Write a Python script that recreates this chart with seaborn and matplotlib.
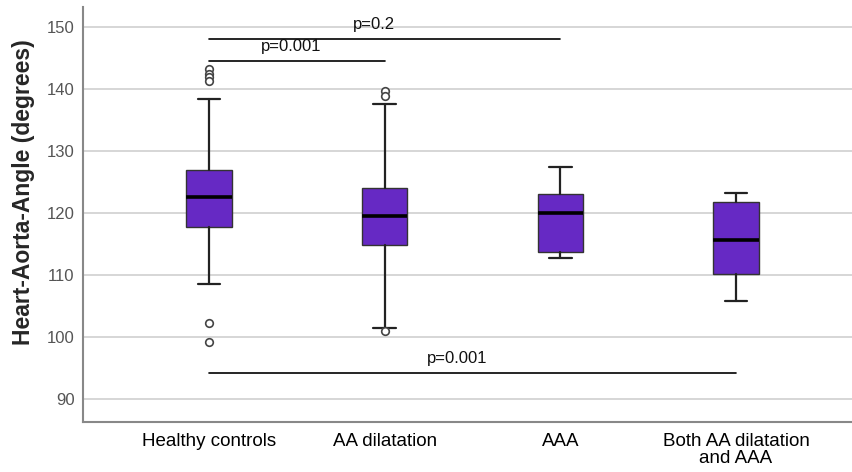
import numpy as np
import pandas as pd
import matplotlib
matplotlib.use("Agg")
import matplotlib.pyplot as plt
import seaborn as sns

# Data
groups = ["Healthy controls", "AA dilatation", "AAA", "Both AA dilatation\nand AAA"]
whis_low = [108.6, 101.5, 112.8, 105.8]
q1 = [117.8, 114.9, 113.8, 110.2]
median = [122.6, 119.6, 120.1, 115.6]
q3 = [127.0, 124.0, 123.1, 121.8]
whis_high = [138.4, 137.6, 127.5, 123.3]

outlier_group = [0, 0, 0, 0, 0, 0, 1, 1, 1]
outlier_value = [143.2, 142.4, 141.9, 141.3, 102.3, 99.2, 139.7, 138.9, 101.0]

# significance bars: (from group, to group, bar height, label)
sig_from = [0, 0, 0]
sig_to = [2, 1, 3]
sig_y = [148.0, 144.5, 94.2]
sig_text = ["p=0.2", "p=0.001", "p=0.001"]

sns.set_style("white")
plt.rcParams["font.family"] = ["Liberation Sans", "DejaVu Sans"]

fig = plt.figure(figsize=(8.52, 4.72), dpi=100)
ax = fig.add_axes([0.0974, 0.1066, 0.9026, 0.8784])

stats = []
for i, g in enumerate(groups):
    stats.append({"label": g, "whislo": whis_low[i], "q1": q1[i], "med": median[i],
                  "q3": q3[i], "whishi": whis_high[i], "fliers": []})

ax.bxp(stats, positions=range(len(groups)), widths=0.26, patch_artist=True,
       showfliers=False,
       boxprops=dict(facecolor="#6629C4", edgecolor="#333333", linewidth=1.0),
       medianprops=dict(color="black", linewidth=2.6),
       whiskerprops=dict(color="#222222", linewidth=1.6),
       capprops=dict(color="#222222", linewidth=1.6),
       capwidths=0.13, zorder=3)

out = pd.DataFrame({"group": outlier_group, "value": outlier_value})
sns.scatterplot(data=out, x="group", y="value", ax=ax, s=30, marker="o",
                facecolor="white", edgecolor="#444444", linewidth=1.2, zorder=4)

for a, b, y, t in zip(sig_from, sig_to, sig_y, sig_text):
    ax.plot([a, b], [y, y], color="black", linewidth=1.2, zorder=5)
    ax.text((a + b) / 2 - 0.03 * (b - a), y + 2.4, t, ha="center", va="center",
            fontsize=12, color="#111111", zorder=5)

ax.set_xlim(-0.717, 3.66)
ax.set_ylim(86.4, 153.2)
ax.set_yticks([90, 100, 110, 120, 130, 140, 150])
ax.yaxis.grid(True, color="#d6d6d6", linewidth=1.4, zorder=0)
ax.set_axisbelow(True)
ax.set_xticks(range(len(groups)))
ax.set_xticklabels(groups, fontsize=13.5, color="black", linespacing=1.0)
ax.tick_params(axis="y", labelsize=12, labelcolor="#555555", length=0, pad=6)
ax.tick_params(axis="x", length=0, pad=8)
ax.set_xlabel("")
ax.set_ylabel("Heart-Aorta-Angle (degrees)", fontsize=16.5, fontweight="bold")
ax.yaxis.set_label_coords(-0.062, 0.554)

for s in ["top", "right"]:
    ax.spines[s].set_visible(False)
for s in ["left", "bottom"]:
    ax.spines[s].set_color("#888888")
    ax.spines[s].set_linewidth(1.5)

fig.savefig("out.png", dpi=100)
